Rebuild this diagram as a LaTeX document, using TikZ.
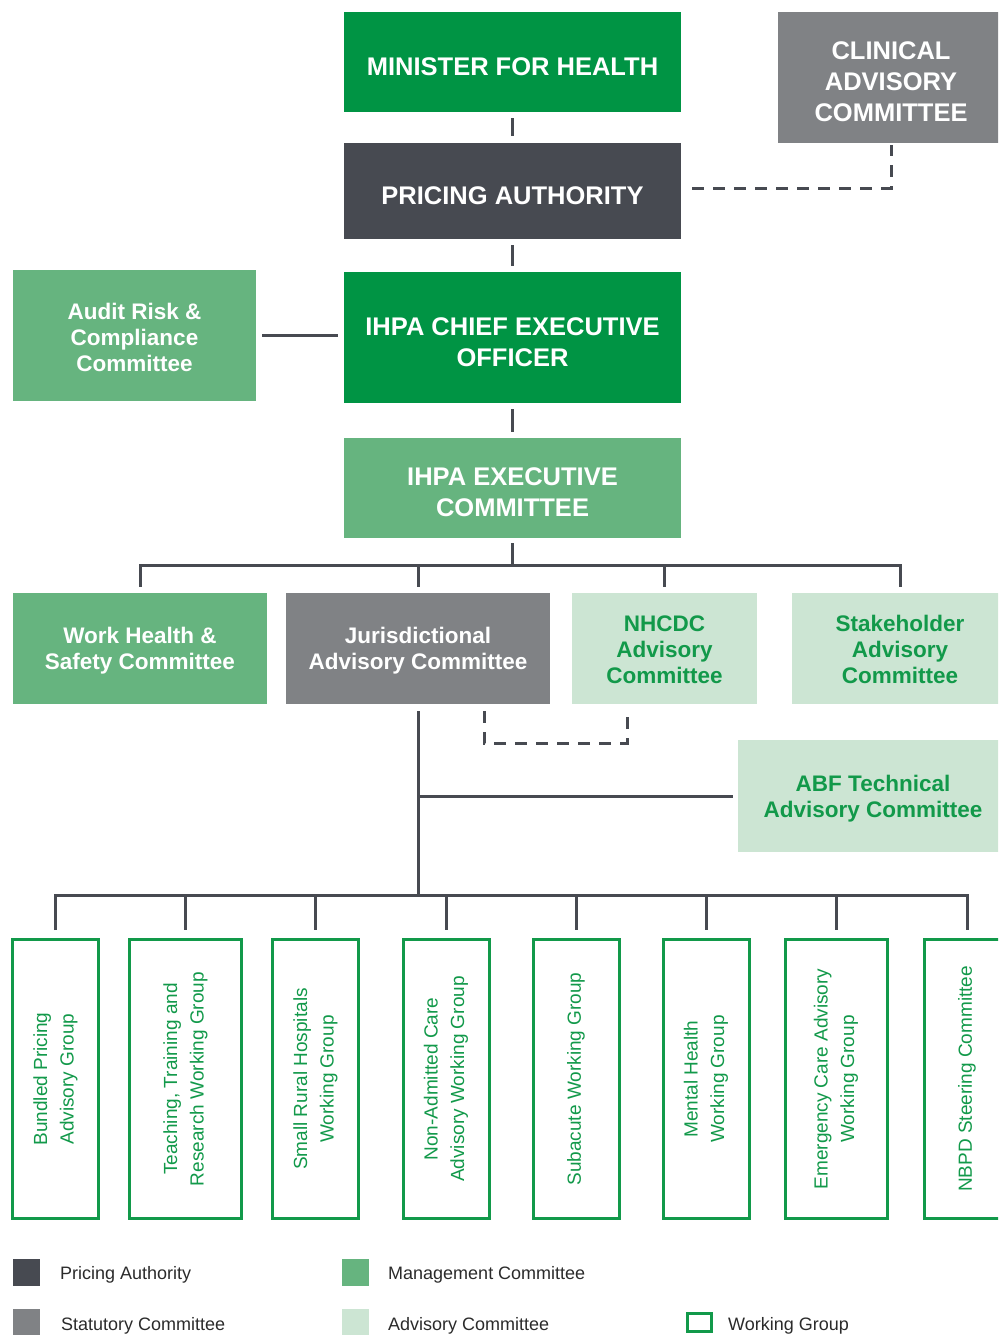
\documentclass[tikz,border=0pt]{standalone}
\usepackage{fontspec}
\setmainfont{Liberation Sans}
\usetikzlibrary{calc}
\definecolor{dgreen}{HTML}{009444}
\definecolor{mgreen}{HTML}{66B47F}
\definecolor{lgreen}{HTML}{CCE5D3}
\definecolor{sgray}{HTML}{808285}
\definecolor{pdark}{HTML}{474A51}
\definecolor{tgreen}{HTML}{12994A}
\definecolor{lncol}{HTML}{474A51}
\definecolor{legtext}{HTML}{2B2B2B}
\newcommand\lowerby[1]{\raisebox{#1}{\vphantom{A}}}
\begin{document}
\begin{tikzpicture}[x=1pt,y=-1pt,
  box/.style={draw=none, inner sep=0pt, align=center},
  big/.style={box, font=\fontsize{25.5}{31}\selectfont\bfseries, text=white},
  mid/.style={box, font=\fontsize{22.5}{26}\selectfont\bfseries},
  wg/.style={draw=tgreen, line width=3pt, fill=white, inner sep=0pt, align=center,
    text=tgreen, font=\fontsize{19}{26.5}\selectfont, rotate=90, minimum width=279pt},
  conn/.style={draw=lncol, line width=3pt},
  dconn/.style={draw=lncol, line width=3pt, dash pattern=on 12pt off 9pt},
  legsq/.style={draw=none, inner sep=0pt, minimum width=27pt, minimum height=27pt},
  legtxt/.style={anchor=base west, inner sep=0pt, text=legtext, font=\fontsize{18}{22}\selectfont}
]
\useasboundingbox (0,0) rectangle (998,1335);
\clip (0,0) rectangle (998,1335);

% top level
\node[big, fill=dgreen, minimum width=337pt, minimum height=100pt] (min) at (512.5,62) {\lowerby{9pt}MINISTER FOR HEALTH};
\node[big, fill=sgray, minimum width=226pt, minimum height=131pt] (cac) at (891,77.5) {\lowerby{9pt}CLINICAL\\ADVISORY\\COMMITTEE};
\node[big, fill=pdark, minimum width=337pt, minimum height=96pt] (pa) at (512.5,191) {\lowerby{9pt}PRICING AUTHORITY};
\node[mid, text=white, fill=mgreen, minimum width=243pt, minimum height=131pt] (arc) at (134.5,335.5) {\lowerby{4pt}Audit Risk \&\\Compliance\\Committee};
\node[big, fill=dgreen, minimum width=337pt, minimum height=131pt] (ceo) at (512.5,337.5) {\lowerby{10pt}IHPA CHIEF EXECUTIVE\\OFFICER};
\node[big, fill=mgreen, minimum width=337pt, minimum height=100pt] (exec) at (512.5,488) {\lowerby{9pt}IHPA EXECUTIVE\\COMMITTEE};

% second level
\node[mid, text=white, fill=mgreen, minimum width=254pt, minimum height=111pt] (whs) at (140,648.5) {\lowerby{6pt}Work Health \&\\Safety Committee};
\node[mid, text=white, fill=sgray, minimum width=264pt, minimum height=111pt] (jac) at (418,648.5) {\lowerby{6pt}Jurisdictional\\Advisory Committee};
\node[mid, text=tgreen, fill=lgreen, minimum width=185pt, minimum height=111pt] (nhcdc) at (664.5,648.5) {\lowerby{2pt}NHCDC\\Advisory\\Committee};
\node[mid, text=tgreen, fill=lgreen, minimum width=216pt, minimum height=111pt] (sac) at (900,648.5) {\lowerby{2pt}Stakeholder\\Advisory\\Committee};
\node[mid, text=tgreen, fill=lgreen, minimum width=270pt, minimum height=112pt] (abf) at (873,796) {\lowerby{6pt}ABF Technical\\Advisory Committee};

% working groups
\node[wg, minimum height=86pt] (wg1) at (55.5,1079) {Bundled Pricing\\Advisory Group};
\node[wg, minimum height=112pt] (wg2) at (185.5,1079) {Teaching, Training and\\Research Working Group};
\node[wg, minimum height=86pt] (wg3) at (315.5,1079) {Small Rural Hospitals\\Working Group};
\node[wg, minimum height=86pt] (wg4) at (446,1079) {Non-Admitted Care\\Advisory Working Group};
\node[wg, minimum height=86pt] (wg5) at (576,1079) {Subacute Working Group};
\node[wg, minimum height=86pt] (wg6) at (706,1079) {Mental Health\\Working Group};
\node[wg, minimum height=102pt] (wg7) at (836,1079) {Emergency Care Advisory\\Working Group};
\node[wg, minimum height=86pt] (wg8) at (967,1079) {NBPD Steering Committee};

\coordinate (bus) at (512.5,565);
\coordinate (bus2) at (418,895);

% connectors
\draw[conn, shorten <=6pt, shorten >=7pt] (min.south) -- (pa.north);
\draw[dconn, shorten <=11pt, shorten >=2pt] (pa.east) ++(0,-3) -| (cac.south);
\draw[conn, shorten <=6pt, shorten >=6pt] (pa.south) -- (ceo.north);
\draw[conn, shorten <=6pt, shorten >=6pt] (arc.east) -- (arc.east -| ceo.west);
\draw[conn, shorten <=6pt, shorten >=6pt] (ceo.south) -- (exec.north);
\draw[conn, shorten <=5pt] (exec.south) -- (bus);
\draw[conn, shorten <=6pt, shorten >=6pt] (whs.north) |- (sac.north |- bus) -- (sac.north);
\draw[conn, shorten >=6pt] (jac.north |- bus) -- (jac.north);
\draw[conn, shorten >=6pt] (nhcdc.north |- bus) -- (nhcdc.north);

\draw[dconn] ($(jac.south)+(66,7)$) |- ($(nhcdc.south)+(-37.5,39)$) -- ($(nhcdc.south)+(-37.5,11)$);

\draw[conn, shorten <=7pt] (jac.south) -- (bus2);
\draw[conn, shorten >=5pt] (jac.south |- abf.west) -- (abf.west);

\draw[conn, shorten <=8pt, shorten >=8pt] (wg1.east) |- (wg8.east |- bus2) -- (wg8.east);
\foreach \w in {wg2,wg3,wg4,wg5,wg6,wg7}{
  \draw[conn, shorten >=8pt] (\w.east |- bus2) -- (\w.east);
}

% legend
\node[legsq, fill=pdark] (lg1) at (26.5,1272.5) {};
\node[legtxt] (lg1t) at (60,1279) {Pricing Authority};
\node[legsq, fill=mgreen] (lg2) at (355.5,1272.5) {};
\node[legtxt] (lg2t) at (388,1279) {Management Committee};
\node[legsq, fill=sgray] (lg3) at (26.5,1322.5) {};
\node[legtxt] (lg3t) at (61,1330) {Statutory Committee};
\node[legsq, fill=lgreen] (lg4) at (355.5,1322.5) {};
\node[legtxt] (lg4t) at (388,1330) {Advisory Committee};
\node[draw=tgreen, line width=3pt, inner sep=0pt, minimum width=24pt, minimum height=18pt] (lg5) at (699.5,1322.5) {};
\node[legtxt] (lg5t) at (728,1330) {Working Group};
\end{tikzpicture}
\end{document}
